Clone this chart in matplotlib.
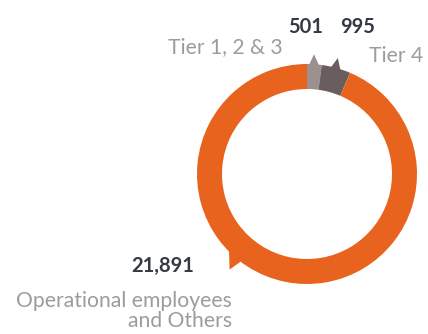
import numpy as np
import matplotlib
matplotlib.use("Agg")
import matplotlib.pyplot as plt
from matplotlib.patches import Polygon

# Headcount by category
categories = ["Tier 1, 2 & 3", "Tier 4", "Operational employees", "and Others"]
values = [501, 995, 21891]
value_labels = ["501", "995", "21,891"]
colors = ["#9a918f", "#6a5d5d", "#e8641e"]

W, H = 428, 334
fig = plt.figure(figsize=(W / 100, H / 100), dpi=100)
ax = fig.add_axes([0, 0, 1, 1])

cx, cy = 307, H - 174
r_out, width = 110, 25

wedges, _ = ax.pie(values, colors=colors, startangle=90, counterclock=False,
                   radius=r_out, center=(cx, cy),
                   wedgeprops=dict(width=width, linewidth=0))
ax.set_xlim(0, W)
ax.set_ylim(0, H)
ax.set_aspect("equal")
ax.axis("off")


def tail(theta_deg, half_span, length, lean, color):
    """Speech-bubble tail sitting on the outer edge of the ring."""
    t = np.radians(theta_deg)
    a1, a2 = t - np.radians(half_span), t + np.radians(half_span)
    base = r_out - 4
    p1 = (cx + base * np.cos(a1), cy + base * np.sin(a1))
    p2 = (cx + base * np.cos(a2), cy + base * np.sin(a2))
    tt = t + np.radians(lean)
    tip = (cx + (r_out + length) * np.cos(tt), cy + (r_out + length) * np.sin(tt))
    ax.add_patch(Polygon([p1, tip, p2], closed=True, color=color, lw=0))


# tails at the middle of the two small slices, and one on the big slice
for w, col in zip(wedges[:2], colors[:2]):
    mid = (w.theta1 + w.theta2) / 2
    tail(mid, 3.5, 10, 0.5, col)
tail(228, 5.5, 13, 3, colors[2])

num_kw = dict(fontsize=14.5, fontweight="bold", color="#333a42", family="Lato",
              va="baseline")
lab_kw = dict(fontsize=15.2, fontweight="normal", color="#9c9c9c", family="Lato",
              va="baseline")

ax.text(306, H - 33, value_labels[0], ha="center", **num_kw)
ax.text(358, H - 33, value_labels[1], ha="center", **num_kw)
ax.text(283, H - 53, categories[0], ha="right", **lab_kw)
ax.text(423, H - 62, categories[1], ha="right", **lab_kw)
ax.text(194, H - 272, value_labels[2], ha="right", **num_kw)
ax.text(232, H - 307, categories[2], ha="right", **lab_kw)
ax.text(232, H - 327, categories[3], ha="right", **lab_kw)

fig.savefig("out.png", dpi=100, facecolor="white")
